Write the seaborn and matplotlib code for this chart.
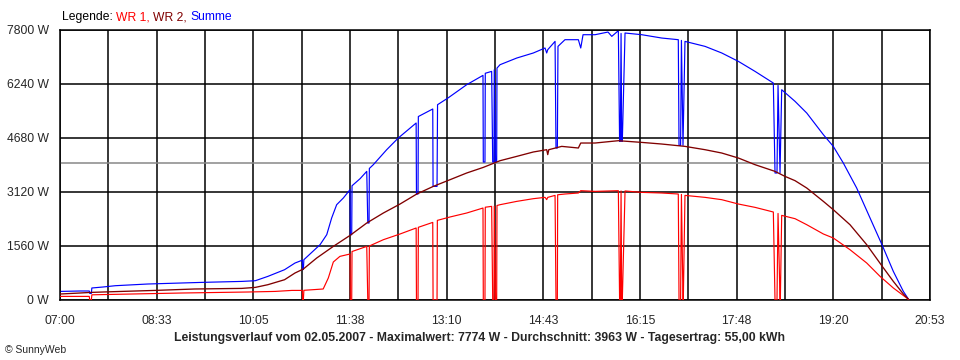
import matplotlib
matplotlib.use("Agg")
import matplotlib.pyplot as plt
import seaborn as sns
import pandas as pd

# Zeit in Minuten seit Mitternacht, Leistung in W
t_wr1 = [420, 448, 448.5, 450, 450.5, 488.7, 536.5, 600, 626, 642, 652.0, 652.3, 653.0, 653.5,
         672, 676.9, 681.7, 688, 697.7, 698, 699.3, 699.6, 713.7, 714.7, 715.9, 716.2,
         729.6, 745.6, 761, 761.3, 762.8, 763.1, 776.9, 777.2, 781, 781.3, 793.4, 809.4,
         825, 825.3, 826.9, 827.2, 833.3, 834.3, 835.5, 835.8, 837, 838.1, 838.4, 841.3,
         857.3, 873.2, 884.4, 886, 887, 894, 894.9, 896.2, 896.5, 903.5, 916.3, 918.6,
         932.3, 954.6, 955.8, 956.5, 957.2, 957.8, 958.4, 961, 977, 996.1, 1012, 1012.7,
         1014.2, 1015, 1016.5, 1016.8, 1018.4, 1037.6, 1053.6, 1069.5, 1085.5, 1103,
         1104.6, 1106.5, 1107.5, 1109.4, 1109.7, 1111, 1123.8, 1135, 1150.9, 1160.4,
         1176.4, 1192.4, 1205.2, 1217.9, 1230.7, 1232.9]
p_wr1 = [104, 104, 0, 0, 150, 173, 202, 231, 248, 277, 277, 0, 0, 280,
         318, 636, 1098, 1260, 1329, 0, 0, 1400, 1549, 0, 0, 1560,
         1742, 1907, 2080, 0, 0, 2100, 2242, 0, 0, 2300, 2398, 2513,
         2657, 0, 0, 2680, 2705, 0, 0, 2710, 0, 0, 2730, 2753,
         2849, 2927, 2965, 2900, 2965, 3022, 0, 0, 3040, 3062, 3091, 3158,
         3138, 3158, 0, 0, 3150, 0, 0, 3150, 3109, 3091, 3062, 0,
         0, 3050, 0, 0, 3022, 2965, 2898, 2773, 2676, 2542,
         0, 0, 2500, 0, 0, 2445, 2349, 2175, 1907, 1791,
         1453, 1069, 682, 347, 58, 0]

t_wr2 = [420, 439, 450, 479, 511, 549, 594, 607, 619, 635, 645, 653, 665.8, 681.7, 697.7,
         713.7, 729.6, 745.6, 761.6, 777.4, 793.4, 809.4, 825.3, 841.3, 857.3, 873.2,
         886, 887, 888, 900.4, 916.3, 918.6, 932.3, 954.6, 977, 996.1, 1018.4, 1037.6,
         1053.6, 1069.5, 1085.5, 1104.6, 1114.2, 1123.8, 1135, 1150.9, 1160.4, 1176.4,
         1192.4, 1207.3, 1217.9, 1227.5, 1232.2]
p_wr2 = [173, 202, 220, 248, 277, 318, 335, 364, 442, 586, 780, 895, 1213, 1549, 1866,
         2224, 2513, 2773, 3062, 3282, 3475, 3669, 3831, 4024, 4149, 4276,
         4342, 4200, 4342, 4438, 4391, 4535, 4535, 4602, 4553, 4506, 4438, 4342,
         4246, 4102, 3909, 3716, 3571, 3447, 3235, 2849, 2609, 2175,
         1598, 972, 537, 173, 29]

t_sum = [420, 439, 448, 448.5, 450, 450.5, 461, 473, 504, 556, 594, 607, 619, 635, 645, 652,
         652.3, 653.0, 653.5, 669, 675.4, 680.1, 684.9, 691.3, 697.7, 698, 699.3, 699.6,
         707.3, 713.7, 714.7, 715.9, 716.2, 720, 732.8, 743.9, 761, 761.3, 762.8, 763.1,
         776.9, 777.2, 781, 781.5, 791.5, 809.4, 825, 825.3, 826.9, 827.2, 833.3, 834.3,
         835.5, 835.8, 837, 838.1, 838.4, 841.3, 857.3, 873.2, 884.4, 886, 887, 894,
         894.9, 896.2, 896.8, 903.5, 916.3, 918.6, 920.8, 932.3, 944.7, 948.3, 954.6,
         955.8, 956.5, 957.2, 957.8, 958.4, 961, 977, 996.1, 1012, 1012.7, 1014.2, 1015,
         1016.5, 1018.4, 1037.6, 1053.6, 1069.5, 1085.5, 1103, 1104.6, 1106.5, 1107.5,
         1109.4, 1111, 1123.8, 1135, 1150.9, 1160.4, 1170, 1182.8, 1195.6, 1207.3,
         1217.9, 1227.5, 1232.9]
p_sum = [248, 260, 260, 190, 190, 347, 375, 413, 462, 509, 537, 557, 682, 875, 1068, 1150,
         880, 880, 1164, 1598, 1887, 2369, 2753, 2947, 3187, 1887, 1887, 3300,
         3504, 3716, 2224, 2224, 3800, 3909, 4342, 4680, 5113, 3062, 3062, 5300,
         5518, 3282, 3282, 5642, 5836, 6220, 6489, 3986, 3986, 6550, 6604, 3986,
         3986, 6650, 4000, 4000, 6700, 6797, 6990, 7136, 7280, 7136, 7231, 7471,
         4391, 4391, 7327, 7520, 7520, 7280, 7664, 7664, 7741, 7616, 7780,
         4582, 4582, 7700, 4582, 4582, 7713, 7664, 7568, 7520, 4467, 4467, 7500,
         4467, 7471, 7327, 7136, 6894, 6604, 6268, 3669, 3669, 6200,
         3669, 6075, 5738, 5401, 4776, 4438, 3957, 3235, 2369, 1578,
         826, 248, 0]

avg_w = 3963
y_ticks = [0, 1560, 3120, 4680, 6240, 7800]
x_labels = ["07:00", "08:33", "10:05", "11:38", "13:10", "14:43", "16:15", "17:48", "19:20", "20:53"]
t_start, t_end = 420, 1253

sns.set_style("white")
plt.rcParams['font.family'] = ['Liberation Sans', 'DejaVu Sans']

fig = plt.figure(figsize=(9.6, 3.6), dpi=100)
ax = fig.add_axes([60/960, 60/360, 870/960, 270/360])

# Gitter + Durchschnittslinie
step = (t_end - t_start) / 18
xt = [t_start + i * step for i in range(19)]
for x in xt:
    ax.axvline(x, color='black', lw=1.1, zorder=1)
for y in y_ticks:
    ax.axhline(y, color='black', lw=1.1, zorder=1)
ax.axhline(avg_w, color='#888888', lw=1.1, zorder=1)

df1 = pd.DataFrame({'t': t_wr1, 'p': p_wr1})
df2 = pd.DataFrame({'t': t_wr2, 'p': p_wr2})
df3 = pd.DataFrame({'t': t_sum, 'p': p_sum})
sns.lineplot(data=df1, x='t', y='p', sort=False, estimator=None, color='#ff0000', lw=0.85, ax=ax, zorder=3)
sns.lineplot(data=df2, x='t', y='p', sort=False, estimator=None, color='#800000', lw=0.95, ax=ax, zorder=4)
sns.lineplot(data=df3, x='t', y='p', sort=False, estimator=None, color='#0000ff', lw=0.85, ax=ax, zorder=2)

ax.set_xlim(t_start, t_end)
ax.set_ylim(0, 7800)
ax.set_xticks(xt)
lbls = []
for i in range(19):
    lbls.append(x_labels[i // 2] if i % 2 == 0 else "")
ax.set_xticklabels(lbls, fontsize=8.7)
ax.set_yticks(y_ticks)
ax.set_yticklabels([f"{v} W" for v in y_ticks], fontsize=8.7)
ax.tick_params(axis='both', direction='out', length=5, width=1, color='black', pad=3)
ax.tick_params(axis='x', pad=6)
ax.set_xlabel("")
ax.set_ylabel("")
for s in ax.spines.values():
    s.set_color('black')
    s.set_linewidth(1.1)

# Legende oben
t0 = fig.text(62/960, 1 - 17/360, "Legende: ", fontsize=8.7, color='black', va='center')
t1 = ax.annotate("WR 1, ", xy=(1, 0), xycoords=t0, fontsize=8.7, color='#ff0000', va='bottom')
t2 = ax.annotate("WR 2, ", xy=(1, 0), xycoords=t1, fontsize=8.7, color='#800000', va='bottom')
ax.annotate("Summe", xy=(1, 0), xycoords=t2, fontsize=8.7, color='#0000ff', va='bottom')

fig.text(480/960, 1 - 338/360,
         "Leistungsverlauf vom 02.05.2007 - Maximalwert: 7774 W - Durchschnitt: 3963 W - Tagesertrag: 55,00 kWh",
         fontsize=8.8, fontweight='bold', ha='center', va='center')
fig.text(5/960, 1 - 350/360, "© SunnyWeb", fontsize=7.5, va='center')

fig.savefig("out.png", dpi=100, facecolor='white')
